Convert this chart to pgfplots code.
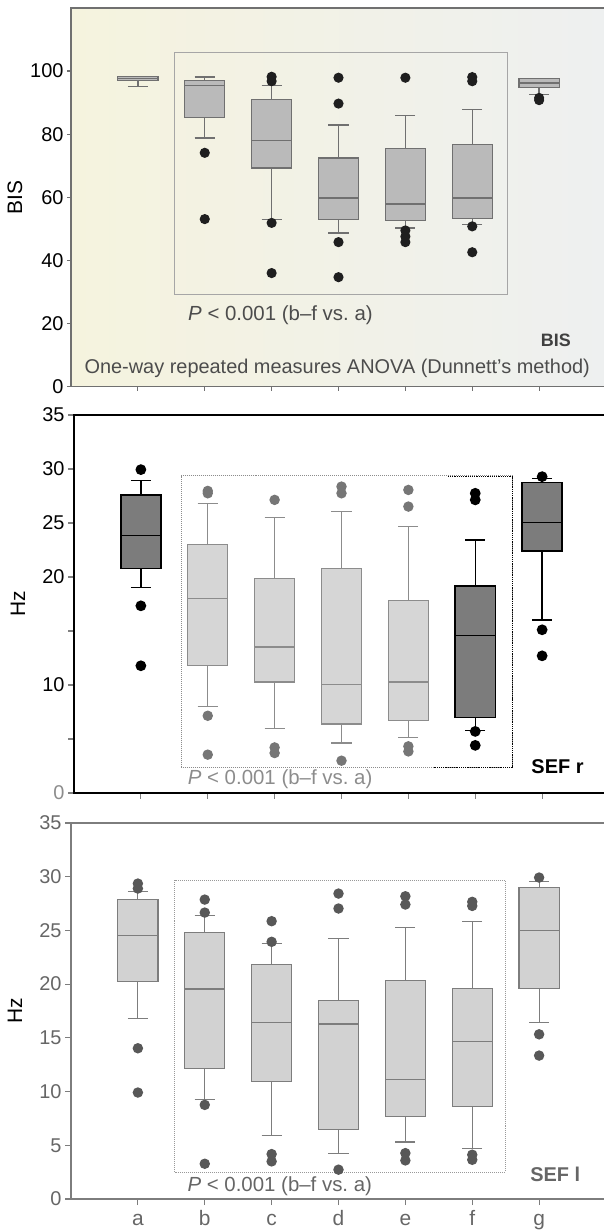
\documentclass[border=0pt]{standalone}
\usepackage{fontspec}
\setmainfont{Liberation Sans}
\usepackage{pgfplots}
\pgfplotsset{compat=1.18}
\usepgfplotslibrary{statistics}
\definecolor{cream}{RGB}{245,243,222}
\definecolor{creammid}{RGB}{247,247,240}
\definecolor{creamright}{RGB}{238,240,240}
\definecolor{pone}{RGB}{112,112,112}
\definecolor{ponefill}{RGB}{186,186,186}
\definecolor{darkfill}{RGB}{124,124,124}
\definecolor{lightfill}{RGB}{214,214,214}
\definecolor{lightline}{RGB}{140,140,140}
\definecolor{lightdot}{RGB}{118,118,118}
\definecolor{pthree}{RGB}{125,125,125}
\definecolor{pthreefill}{RGB}{210,210,210}
\definecolor{pthreedot}{RGB}{88,88,88}
\newcommand{\bp}[8]{\addplot[#1, boxplot prepared={draw direction=y, draw position=#2, lower whisker=#3, lower quartile=#4, median=#5, upper quartile=#6, upper whisker=#7}] coordinates {#8};}
\tikzset{
 p1/.style={draw=pone, fill=ponefill, line width=1.3bp, solid, mark=*, mark size=4.4bp, mark options={draw=black!88, fill=black!88}},
 p2d/.style={draw=black, fill=darkfill, line width=1.5bp, solid, mark=*, mark size=4.6bp, mark options={draw=black, fill=black}},
 p2l/.style={draw=lightline, fill=lightfill, line width=1.2bp, solid, mark=*, mark size=4.6bp, mark options={draw=lightdot, fill=lightdot}},
 p3/.style={draw=pthree, fill=pthreefill, line width=1.2bp, solid, mark=*, mark size=4.6bp, mark options={draw=pthreedot, fill=pthreedot}},
}
\pgfplotsset{
 common/.style={
  scale only axis, clip=false,
  xmin=0, xmax=8, xtick={1,...,7},
  tick pos=left, tick align=outside,
  major tick length=6bp,
  /pgf/number format/assume math mode=true,
  tick label style={font=\fontsize{20}{20}\selectfont},
  boxplot/draw direction=y,
  boxplot/box extend=0.6, boxplot/whisker extend=0.3,
  every axis y label/.style={at={(rel axis cs:0,0.5)}, xshift=-56bp, rotate=90, anchor=center, font=\fontsize{21}{21}\selectfont},
  axis line style={line width=1.4bp},
  major tick style={line width=1.2bp},
 }
}
\begin{document}
\begin{tikzpicture}[x=1bp,y=1bp]
\useasboundingbox (0,0) rectangle (604,1231);
% ---------------- Panel 1: BIS
\begin{axis}[common, at={(71bp,844.3bp)}, anchor=south west,
  width=535bp, height=378.7bp,
  ymin=0, ymax=120, ytick={0,20,40,60,80,100},
  xticklabels={},
  axis line style={draw=pone},
  major tick style={draw=pone},
  major tick length=4bp,
  ylabel={BIS},
  axis background/.style={left color=cream, middle color=creammid, right color=creamright},
]
\draw[draw=black!35, line width=1bp] (axis cs:1.55,29.1) rectangle (axis cs:6.53,105.8);
\bp{p1}{1}{95.2}{97.0}{97.6}{98.2}{98.2}{}
\bp{p1}{2}{78.8}{85.2}{95.4}{97.1}{98.1}{(0,74.1) (0,53.1)}
\bp{p1}{3}{52.9}{69.3}{78.0}{91.0}{95.4}{(0,98.2) (0,96.8) (0,51.9) (0,36.0)}
\bp{p1}{4}{48.7}{52.9}{59.8}{72.5}{82.9}{(0,97.9) (0,89.7) (0,45.8) (0,34.7)}
\bp{p1}{5}{50.3}{52.7}{57.9}{75.4}{85.9}{(0,97.9) (0,49.5) (0,47.6) (0,45.8)}
\bp{p1}{6}{51.5}{53.4}{59.8}{76.7}{87.8}{(0,98.1) (0,96.8) (0,50.8) (0,42.6)}
\bp{p1}{7}{92.6}{94.7}{96.2}{97.7}{97.7}{(0,91.5) (0,90.8)}
\node[anchor=west, text=black!70, font=\fontsize{20.5}{20.5}\selectfont] at (axis cs:1.70,22.8) {\textit{P} < 0.001 (b--f vs.\ a)};
\node[anchor=center, text=black!75, font=\bfseries\fontsize{18}{18}\selectfont] at (axis cs:7.25,14.8) {BIS};
\node[anchor=west, text=black!70, font=\fontsize{20}{20}\selectfont] at (axis cs:0.15,5.8) {One-way repeated measures ANOVA (Dunnett's method)};
\end{axis}
% ---------------- Panel 2: SEF r
\begin{axis}[common, at={(74bp,438bp)}, anchor=south west,
  width=535bp, height=378bp,
  ymin=0, ymax=35, ytick={0,5,...,35},
  yticklabels={\textcolor{black!45}{0},,10,,20,25,30,35},
  xticklabels={},
  ylabel={Hz},
]
\draw[draw=black!45, densely dotted, line width=1bp] (axis cs:1.60,2.37) rectangle (axis cs:6.56,29.39);
\draw[draw=black, densely dotted, line width=1.2bp] (axis cs:5.59,29.29) -- (axis cs:6.56,29.29) -- (axis cs:6.56,2.37) -- (axis cs:5.39,2.37);
\bp{p2d}{1}{19.03}{20.78}{23.84}{27.57}{28.92}{(0,29.94) (0,17.33) (0,11.78)}
\bp{p2l}{2}{8.02}{11.81}{18.01}{23.03}{26.83}{(0,27.97) (0,27.75) (0,7.15) (0,3.55)}
\bp{p2l}{3}{5.95}{10.27}{13.51}{19.86}{25.50}{(0,27.14) (0,4.22) (0,3.70)}
\bp{p2l}{4}{4.63}{6.38}{10.08}{20.78}{26.03}{(0,28.37) (0,27.75) (0,2.99)}
\bp{p2l}{5}{5.15}{6.72}{10.27}{17.79}{24.67}{(0,28.06) (0,26.52) (0,4.32) (0,3.85)}
\bp{p2d}{6}{5.77}{6.97}{14.59}{19.18}{23.44}{(0,27.75) (0,27.14) (0,5.70) (0,4.41)}
\bp{p2d}{7}{16.03}{22.39}{25.04}{28.77}{29.11}{(0,29.29) (0,15.11) (0,12.70)}
\node[anchor=west, text=black!45, font=\fontsize{20.5}{20.5}\selectfont] at (axis cs:1.65,1.23) {\textit{P} < 0.001 (b--f vs.\ a)};
\node[anchor=center, text=black, font=\bfseries\fontsize{20}{20}\selectfont] at (axis cs:7.23,2.47) {SEF r};
\end{axis}
% ---------------- Panel 3: SEF l
\begin{axis}[common, at={(71bp,32bp)}, anchor=south west,
  width=535bp, height=376bp,
  ymin=0, ymax=35, ytick={0,5,...,35},
  xticklabels={a,b,c,d,e,f,g},
  ylabel={Hz},
  axis line style={draw=pthree},
  major tick style={draw=pthree},
  tick label style={text=black!60},
  xticklabel style={font=\fontsize{21}{21}\selectfont, text height=15bp, text depth=4bp, yshift=-2bp},
]
\draw[draw=black!40, densely dotted, line width=1bp] (axis cs:1.55,2.51) rectangle (axis cs:6.49,29.67);
\bp{p3}{1}{16.8}{20.26}{24.5}{27.9}{28.6}{(0,29.36) (0,28.9) (0,14.03) (0,9.91)}
\bp{p3}{2}{9.29}{12.14}{19.54}{24.78}{26.42}{(0,27.87) (0,26.66) (0,8.76) (0,3.28)}
\bp{p3}{3}{5.91}{10.93}{16.44}{21.86}{23.78}{(0,25.86) (0,23.94) (0,4.18) (0,3.50)}
\bp{p3}{4}{4.27}{6.44}{16.29}{18.46}{24.25}{(0,28.43) (0,27.04) (0,2.73)}
\bp{p3}{5}{5.3}{7.68}{11.09}{20.32}{25.27}{(0,28.18) (0,27.41) (0,4.27) (0,3.59)}
\bp{p3}{6}{4.71}{8.61}{14.65}{19.57}{25.8}{(0,27.66) (0,27.28) (0,4.12) (0,3.65)}
\bp{p3}{7}{16.41}{19.63}{24.96}{29.02}{29.58}{(0,29.92) (0,15.33) (0,13.35)}
\node[anchor=west, text=black!60, font=\fontsize{20.5}{20.5}\selectfont] at (axis cs:1.69,1.18) {\textit{P} < 0.001 (b--f vs.\ a)};
\node[anchor=center, text=black!60, font=\bfseries\fontsize{20}{20}\selectfont] at (axis cs:7.24,2.32) {SEF l};
\end{axis}
\end{tikzpicture}
\end{document}
